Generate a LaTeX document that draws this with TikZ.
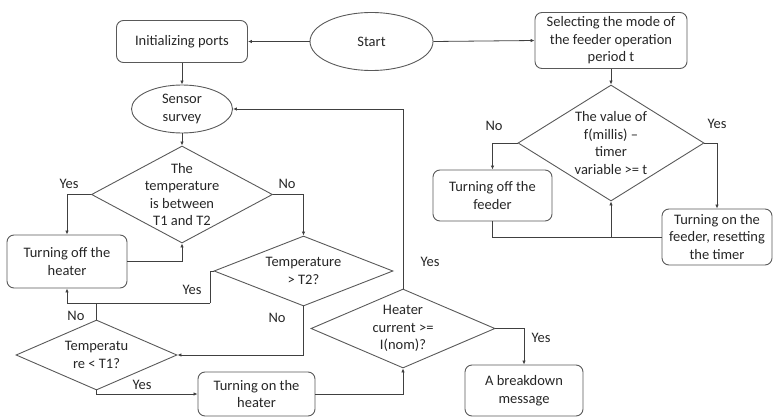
\documentclass[tikz,border=0pt]{standalone}
\usepackage{fontspec}
\setmainfont{Carlito}
\usetikzlibrary{shapes.geometric,arrows.meta}

\begin{document}
\begin{tikzpicture}
[x=1pt,y=-1pt,
  every node/.style={font=\fontsize{14.5}{17.5}\selectfont,text=black!85,align=center},
  boxdecorate/.style={draw=black!65,line width=0.9pt,rounded corners=7pt,inner sep=2pt},
  ovaldecorate/.style={draw=black!65,line width=0.9pt,ellipse,inner sep=0pt},
  choicedecorate/.style={draw=black!65,line width=0.9pt,diamond,inner sep=0pt},
  linedecorate/.style={draw=black!75,line width=0.8pt},
  arrowdecorate/.style={linedecorate,-{Latex[length=4pt,width=3.5pt]}},
  hv/.style={to path={-| (\tikztotarget)}},
  vh/.style={to path={|- (\tikztotarget)}}]
\useasboundingbox (0,0) rectangle (773,417);
%% boxes
\foreach \nodename/\w/\h/\x/\y/\txt in {init/131/42/182/41.5/{Initializing ports},
  select/152/56/611/40.5/{Selecting the mode of\\the feeder operation\\period t},
  offheat/120/53/67/261.5/{Turning off the\\heater},
  onheat/117/44/256.5/394/{Turning on the\\heater},
  msg/118/51/524/390.5/{A breakdown\\message},
  offfeed/119/51/492.5/195.5/{Turning off the\\feeder},
  onfeed/110/56/717/237/{Turning on the\\feeder, resetting\\the timer}} {
  \node (\nodename) at (\x,\y) [boxdecorate,minimum width=\w pt,minimum height=\h pt] {\txt};
}
%% ovals
\foreach \nodename/\w/\h/\x/\y/\txt in {start/123/58/371.5/41.5/Start,
  sensor/101/48/182/109/{Sensor\\survey}} {
  \node (\nodename) at (\x,\y) [ovaldecorate,minimum width=\w pt,minimum height=\h pt] {\txt};
}
%% decisions
\foreach \nodename/\w/\h/\x/\y/\txt in {d1/181/97/182/194.5/{The\\temperature\\is between\\T1 and T2},
  d2/179/70/303.5/271/{Temperature\\> T2?},
  d3/161/70/96.5/355/{Temperatu\\re < T1?},
  d4/184/79/403/328.5/{Heater\\current >=\\I(nom)?},
  d5/186/116/611/143/{The value of\\f(millis) --\\timer\\variable >= t}} {
  \node (\nodename) at (\x,\y) [choicedecorate,minimum width=\w pt,minimum height=\h pt,
    label={center:{\txt}}] {};
}
%% yes / no
\foreach \labelname/\txt/\x/\y in {yesa/Yes/69/184, noa/No/287/184, yesb/Yes/192/290,
  nob/No/76/316, noc/No/277/318, yesc/Yes/142/385, yesd/Yes/430/262,
  yese/Yes/541/338, nod/No/494/126, yesf/Yes/717/124} {
  \node (\labelname) at (\x,\y) {\txt};
}
\coordinate (j1) at (210,303);
\coordinate (j2) at (d5.south |- onfeed.west);
%% edges or lines
\path
\foreach \startnode/\endnode in {start.west/init.east, start.east/select.west,
  init/sensor, sensor/d1, select/d5, j2/d5.south} {
  (\startnode) edge[arrowdecorate] node {} (\endnode)
};
\path
\foreach \startnode/\endnode in {d1.west/offheat.north, offheat.east/d1.south,
  d1.east/d2.north, j1/offheat.south, onheat.east/d4.south, d4.east/msg.north,
  d5.west/offfeed.north, d5.east/onfeed.north} {
  (\startnode) edge[arrowdecorate,hv] node {} (\endnode)
};
\path
\foreach \startnode/\endnode in {d2.south/d3.east, d3.south/onheat.west,
  d4.north/sensor.east} {
  (\startnode) edge[arrowdecorate,vh] node {} (\endnode)
};
\draw[linedecorate] (d2.west) -| (j1);
\draw[linedecorate] (d3.north) -- (d3.north |- j1);
\draw[linedecorate] (offfeed.south) |- (j2);
\draw[linedecorate] (onfeed.west) -- (j2);
\end{tikzpicture}
\end{document}
